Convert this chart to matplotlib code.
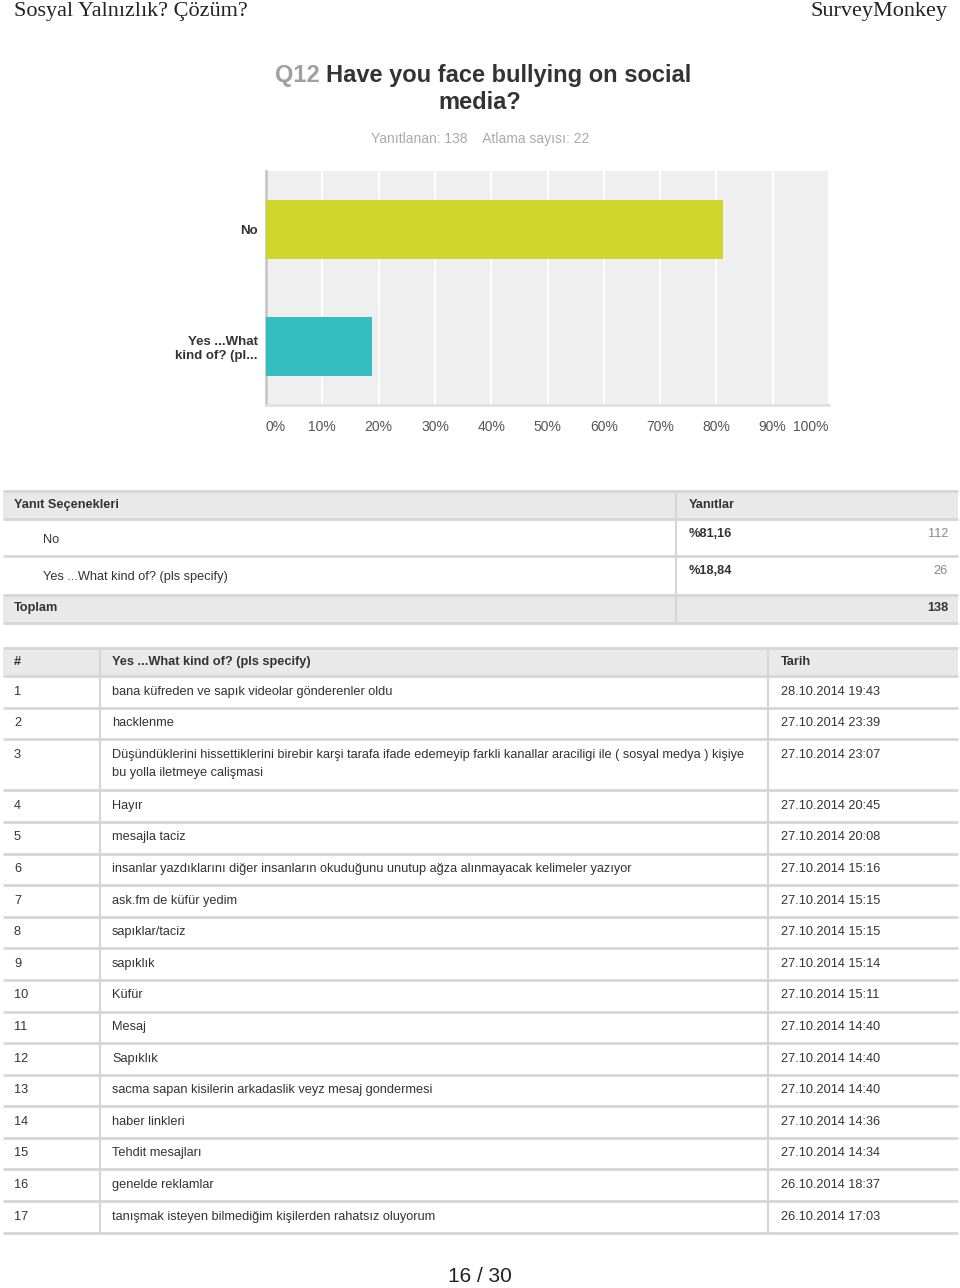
import matplotlib
matplotlib.use("Agg")
import matplotlib.pyplot as plt
from matplotlib.patches import Rectangle

W, H = 960, 1288

# chart data
categories = ["No", "Yes ...What\nkind of? (pl..."]
percents = [81.16, 18.84]
bar_colors = ["#cfd52a", "#35bec1"]
x_ticks = [0, 10, 20, 30, 40, 50, 60, 70, 80, 90, 100]

# summary table
answer_options = ["No", "Yes ...What kind of? (pls specify)"]
answer_pcts = ["%81,16", "%18,84"]
answer_counts = [112, 26]
total_count = 138
answered, skipped = 138, 22

# open-ended responses
resp_ids = list(range(1, 18))
resp_texts = [
    "bana küfreden ve sapık videolar gönderenler oldu",
    "hacklenme",
    "Düşündüklerini hissettiklerini birebir karşi tarafa ifade edemeyip farkli kanallar araciligi ile ( sosyal medya ) kişiye bu yolla iletmeye calişmasi",
    "Hayır",
    "mesajla taciz",
    "insanlar yazdıklarını diğer insanların okuduğunu unutup ağza alınmayacak kelimeler yazıyor",
    "ask.fm de küfür yedim",
    "sapıklar/taciz",
    "sapıklık",
    "Küfür",
    "Mesaj",
    "Sapıklık",
    "sacma sapan kisilerin arkadaslik veyz mesaj gondermesi",
    "haber linkleri",
    "Tehdit mesajları",
    "genelde reklamlar",
    "tanışmak isteyen bilmediğim kişilerden rahatsız oluyorum",
]
resp_dates = [
    "28.10.2014 19:43", "27.10.2014 23:39", "27.10.2014 23:07", "27.10.2014 20:45",
    "27.10.2014 20:08", "27.10.2014 15:16", "27.10.2014 15:15", "27.10.2014 15:15",
    "27.10.2014 15:14", "27.10.2014 15:11", "27.10.2014 14:40", "27.10.2014 14:40",
    "27.10.2014 14:40", "27.10.2014 14:36", "27.10.2014 14:34", "26.10.2014 18:37",
    "26.10.2014 17:03",
]

plt.rcParams["font.family"] = ["Liberation Sans", "DejaVu Sans"]
DARK = "#333333"
LINE = "#d6d6d6"
HEAD = "#e9e9e9"
FS = 9.2

fig = plt.figure(figsize=(W / 100, H / 100), dpi=100)

# page canvas in pixel coordinates
pg = fig.add_axes([0, 0, 1, 1])
pg.set_xlim(0, W)
pg.set_ylim(H, 0)
pg.axis("off")

# page header
pg.text(14, 11, "Sosyal Yalnızlık? Çözüm?", family="Liberation Serif", fontsize=16,
        va="center", ha="left", color="#222")
pg.text(948, 11, "SurveyMonkey", family="Liberation Serif", fontsize=16,
        va="center", ha="right", color="#222")

# question title
pg.text(275, 75, "Q12", fontsize=17, weight="bold", ha="left", va="center", color="#a0a0a0")
pg.text(326, 75, "Have you face bullying on social", fontsize=17, weight="bold",
        ha="left", va="center", color=DARK)
pg.text(480, 102, "media?", fontsize=17, weight="bold", ha="center", va="center", color=DARK)
pg.text(480, 139, f"Yanıtlanan: {answered}    Atlama sayısı: {skipped}", fontsize=10,
        ha="center", va="center", color="#aaaaaa")

# bar chart
ax = fig.add_axes([266 / W, 1 - 405 / H, (829 - 266) / W, (405 - 171) / H])
ax.set_facecolor("#efefef")
ypos = range(len(categories))
ax.barh(ypos, percents, height=0.5, color=bar_colors, zorder=3)
ax.set_xlim(0, 100)
ax.set_ylim(1.5, -0.5)
ax.set_xticks(x_ticks)
ax.set_xticklabels([f"{v}%" for v in x_ticks], fontsize=10, color="#555555")
labs = ax.get_xticklabels()
labs[0].set_ha("left")
labs[-1].set_ha("right")
ax.set_yticks(list(ypos))
ax.set_yticklabels(categories, fontsize=9.5, weight="bold", color=DARK, linespacing=1.25)
ax.tick_params(axis="both", length=0)
ax.tick_params(axis="x", pad=11)
ax.tick_params(axis="y", pad=6)
ax.grid(axis="x", color="white", linewidth=1.5, zorder=1)
ax.set_axisbelow(True)
for s in ["top", "right"]:
    ax.spines[s].set_visible(False)
ax.spines["left"].set_color("#c8c8c8")
ax.spines["left"].set_linewidth(2)
ax.spines["bottom"].set_color("#e0e0e0")
ax.spines["bottom"].set_linewidth(2)


def hline(y, x0=3, x1=958):
    pg.plot([x0, x1], [y, y], color=LINE, lw=2, solid_capstyle="butt")


def vline(x, y0, y1):
    pg.plot([x, x], [y0, y1], color=LINE, lw=1.5, solid_capstyle="butt")


# summary table
pg.add_patch(Rectangle((3, 491), 955, 28, color=HEAD, lw=0))
pg.add_patch(Rectangle((3, 595), 955, 28, color=HEAD, lw=0))
for y in [491, 519, 556, 595, 623]:
    hline(y)
vline(676, 491, 623)
pg.text(14, 505, "Yanıt Seçenekleri", fontsize=FS, weight="bold", va="center", color=DARK)
pg.text(689, 505, "Yanıtlar", fontsize=FS, weight="bold", va="center", color=DARK)
row_tops = [519, 556]
for top, opt, pct, cnt in zip(row_tops, answer_options, answer_pcts, answer_counts):
    pg.text(43, top + 21, opt, fontsize=FS, va="center", color=DARK)
    pg.text(689, top + 15, pct, fontsize=FS, weight="bold", va="center", color=DARK)
    pg.text(948, top + 15, str(cnt), fontsize=FS, va="center", ha="right", color="#888888")
pg.text(14, 608, "Toplam", fontsize=FS, weight="bold", va="center", color=DARK)
pg.text(948, 608, str(total_count), fontsize=FS, weight="bold", va="center", ha="right", color=DARK)

# responses table
pg.add_patch(Rectangle((3, 648), 955, 28, color=HEAD, lw=0))
pg.text(14, 662, "#", fontsize=FS, weight="bold", va="center", color=DARK)
pg.text(112, 662, "Yes ...What kind of? (pls specify)", fontsize=FS, weight="bold",
        va="center", color=DARK)
pg.text(781, 662, "Tarih", fontsize=FS, weight="bold", va="center", color=DARK)
hline(648)
hline(676)

fig.canvas.draw()
renderer = fig.canvas.get_renderer()


def wrap(text, maxw):
    words = text.split(" ")
    lines, cur = [], ""
    for w in words:
        cand = (cur + " " + w).strip()
        t = pg.text(0, 0, cand, fontsize=FS)
        width = t.get_window_extent(renderer).width
        t.remove()
        if width > maxw and cur:
            lines.append(cur)
            cur = w
        else:
            cur = cand
    lines.append(cur)
    return lines


top = 676
row_h = 31.6
line_h = 18
for rid, txt, dt in zip(resp_ids, resp_texts, resp_dates):
    lines = wrap(txt, 645)
    h = row_h + (len(lines) - 1) * (line_h + 1.5)
    pg.text(14, top + 15.5, str(rid), fontsize=FS, va="center", color=DARK)
    for i, ln in enumerate(lines):
        pg.text(112, top + 15.5 + i * line_h, ln, fontsize=FS, va="center", color=DARK)
    pg.text(781, top + 15.5, dt, fontsize=FS, va="center", color=DARK)
    top += h
    hline(top)
vline(100, 648, top)
vline(768, 648, top)

# page footer
pg.text(480, 1277, "16 / 30", fontsize=15, ha="center", va="center", color="#222")

fig.savefig("out.png", dpi=100)
